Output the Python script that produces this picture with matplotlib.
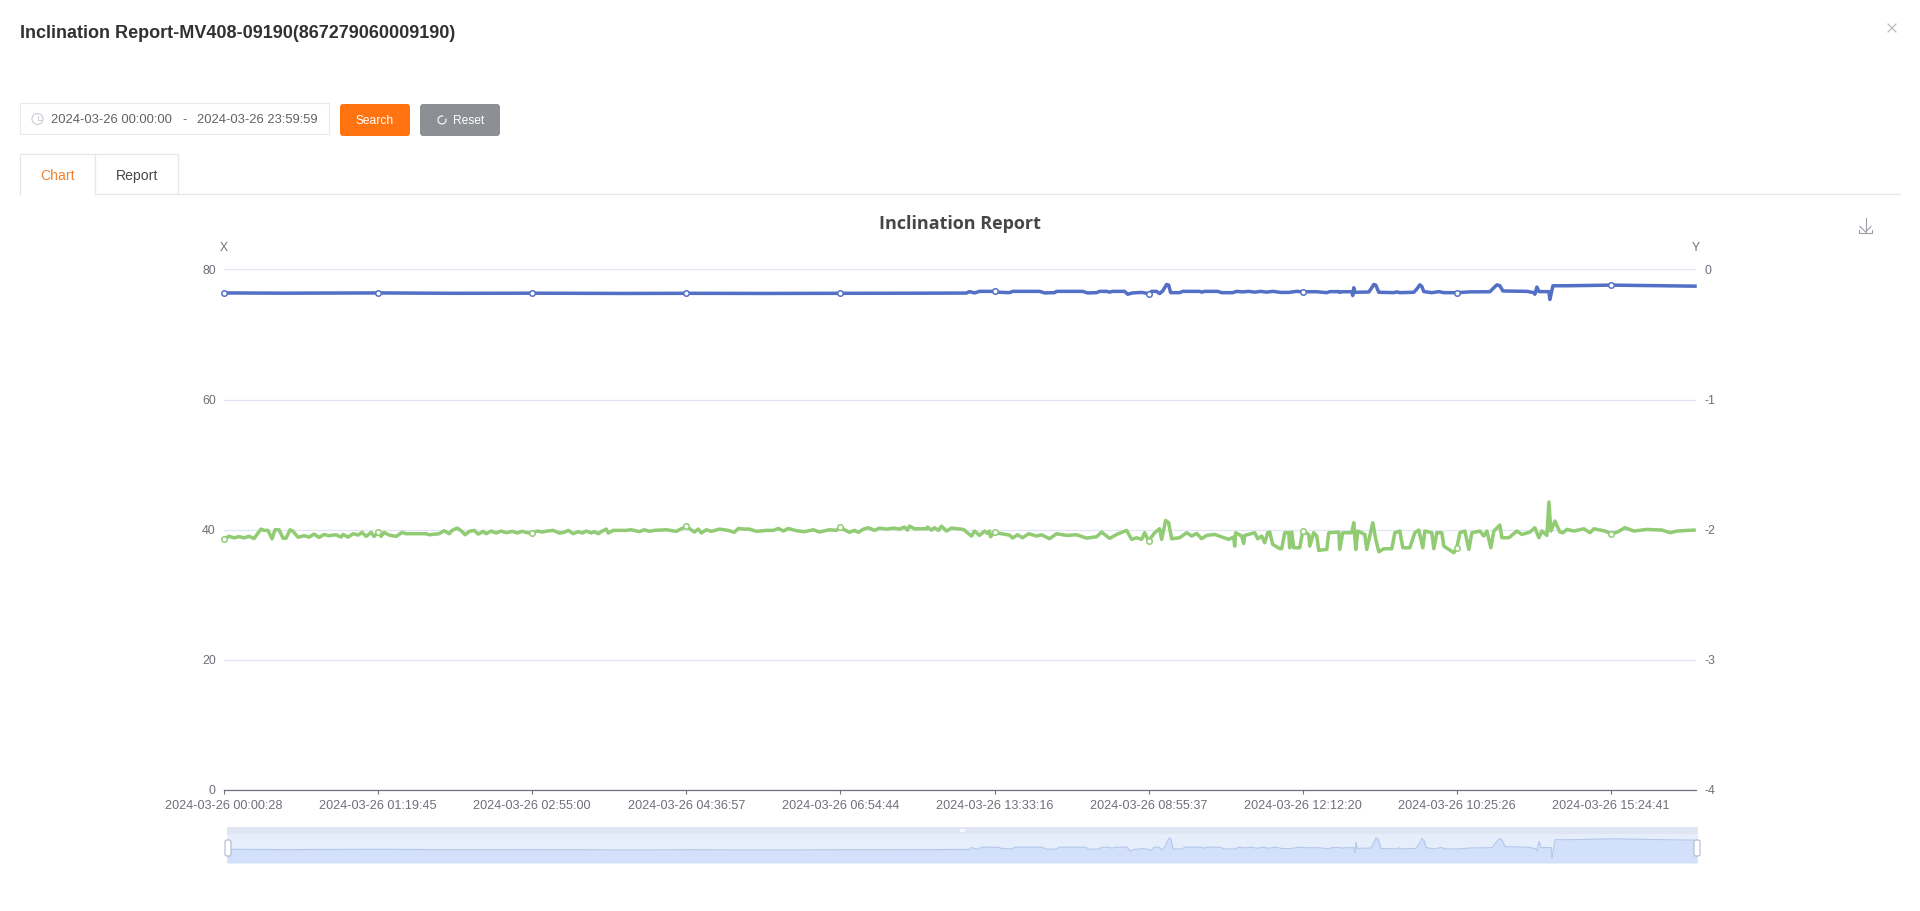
import numpy as np
import matplotlib
matplotlib.use("Agg")
import matplotlib.pyplot as plt
from matplotlib.patches import FancyBboxPatch, Rectangle, Circle, Arc

W, H = 1920, 911
px = 0.72  # px -> pt at dpi 100

page_title = "Inclination Report-MV408-09190(867279060009190)"
chart_title = "Inclination Report"
date_from = "2024-03-26 00:00:00"
date_to = "2024-03-26 23:59:59"
tick_labels = ["2024-03-26 00:00:28", "2024-03-26 01:19:45", "2024-03-26 02:55:00",
               "2024-03-26 04:36:57", "2024-03-26 06:54:44", "2024-03-26 13:33:16",
               "2024-03-26 08:55:37", "2024-03-26 12:12:20", "2024-03-26 10:25:26",
               "2024-03-26 15:24:41"]
tick_index = [0, 154, 308, 462, 616, 770, 924, 1078, 1232, 1386]
left_ticks = [0, 20, 40, 60, 80]
right_ticks = [-4, -3, -2, -1, 0]

blue_index = [0, 60, 154, 230, 308, 400, 462, 540, 616, 700, 742, 745, 750, 755, 770, 775, 785, 788,
              815, 820, 830, 832, 858, 863, 872, 875, 882, 885, 888, 900, 903, 908, 917, 924, 927,
              932, 935, 938, 942, 944, 946, 955, 958, 975, 977, 980, 993, 997, 1008, 1012, 1018,
              1024, 1030, 1036, 1042, 1048, 1056, 1064, 1072, 1078, 1092, 1102, 1105, 1114, 1115,
              1117, 1127, 1128, 1129, 1130, 1144, 1147, 1149, 1151, 1154, 1169, 1172, 1175, 1189,
              1192, 1195, 1197, 1199, 1207, 1214, 1219, 1232, 1245, 1265, 1269, 1272, 1275, 1278,
              1302, 1309, 1310, 1312, 1314, 1324, 1325, 1328, 1342, 1386, 1470]
blue_value = [-0.180, -0.182, -0.180, -0.183, -0.182, -0.184, -0.183, -0.184, -0.183, -0.182, -0.181,
              -0.170, -0.180, -0.168, -0.168, -0.175, -0.178, -0.168, -0.168, -0.180, -0.178, -0.168,
              -0.168, -0.180, -0.178, -0.168, -0.168, -0.174, -0.168, -0.168, -0.190, -0.180, -0.176,
              -0.185, -0.168, -0.168, -0.185, -0.165, -0.115, -0.120, -0.178, -0.178, -0.168, -0.168,
              -0.174, -0.168, -0.168, -0.178, -0.178, -0.168, -0.172, -0.168, -0.174, -0.168, -0.174,
              -0.168, -0.176, -0.176, -0.168, -0.171, -0.171, -0.178, -0.170, -0.170, -0.176, -0.171,
              -0.171, -0.200, -0.140, -0.175, -0.173, -0.140, -0.115, -0.120, -0.175, -0.178, -0.172,
              -0.178, -0.175, -0.150, -0.118, -0.130, -0.170, -0.178, -0.170, -0.178, -0.178, -0.172,
              -0.171, -0.140, -0.118, -0.125, -0.165, -0.168, -0.178, -0.190, -0.135, -0.170, -0.170,
              -0.230, -0.125, -0.125, -0.120, -0.128]

green_index = [0, 5, 10, 15, 20, 25, 30, 37, 40, 44, 48, 51, 55, 59, 62, 66, 69, 74, 80, 85, 90, 95, 100,
               105, 112, 117, 119, 124, 129, 134, 138, 142, 147, 150, 154, 157, 160, 165, 172, 178, 182,
               202, 205, 215, 220, 225, 228, 233, 237, 241, 245, 250, 254, 259, 262, 267, 272, 277, 282,
               288, 293, 298, 303, 308, 313, 318, 323, 329, 335, 340, 344, 349, 354, 358, 362, 367, 370,
               374, 378, 382, 384, 389, 402, 407, 415, 420, 425, 430, 442, 452, 457, 462, 465, 470, 474,
               477, 482, 487, 495, 504, 510, 514, 520, 525, 532, 542, 549, 554, 559, 564, 572, 580, 589,
               595, 605, 612, 616, 620, 625, 630, 634, 639, 644, 650, 655, 662, 669, 675, 680, 683, 685,
               690, 702, 703, 707, 710, 714, 717, 722, 727, 739, 744, 747, 750, 755, 760, 763, 765, 766,
               770, 775, 785, 788, 793, 798, 804, 812, 817, 825, 832, 842, 852, 862, 872, 877, 885, 892,
               902, 907, 912, 917, 920, 924, 930, 935, 937, 941, 944, 947, 955, 962, 967, 972, 977, 982,
               990, 1004, 1009, 1010, 1011, 1017, 1019, 1020, 1030, 1033, 1037, 1040, 1043, 1045, 1048,
               1055, 1057, 1060, 1064, 1065, 1067, 1069, 1075, 1078, 1084, 1085, 1089, 1092, 1094, 1102,
               1104, 1114, 1115, 1118, 1127, 1129, 1131, 1133, 1140, 1142, 1148, 1151, 1154, 1159, 1167,
               1170, 1175, 1178, 1185, 1190, 1194, 1198, 1200, 1207, 1209, 1212, 1217, 1219, 1229, 1232,
               1235, 1240, 1244, 1247, 1255, 1259, 1262, 1266, 1269, 1275, 1277, 1284, 1292, 1297, 1305,
               1310, 1314, 1317, 1322, 1324, 1326, 1330, 1335, 1338, 1342, 1349, 1359, 1365, 1369, 1380,
               1386, 1392, 1400, 1409, 1422, 1437, 1445, 1452, 1469]
green_value = [38.57, 39.0, 38.75, 38.95, 38.75, 39.0, 38.65, 40.1, 39.9, 39.9, 38.6, 40.0, 40.0, 38.7, 38.7,
               40.0, 39.75, 38.85, 39.08, 38.87, 39.33, 38.82, 39.28, 39.08, 39.23, 38.87, 39.28, 38.87,
               39.39, 39.18, 39.59, 38.98, 39.59, 38.98, 39.59, 38.98, 39.59, 39.18, 38.98, 39.59, 39.39,
               39.39, 39.23, 39.39, 39.85, 39.39, 39.9, 40.26, 39.85, 39.23, 39.74, 39.9, 39.33, 39.74,
               39.39, 39.8, 39.5, 39.8, 39.55, 39.75, 39.5, 39.75, 39.55, 39.5, 39.8, 39.65, 39.8, 39.9,
               39.5, 39.6, 39.9, 39.4, 39.7, 39.5, 39.8, 39.5, 39.7, 39.4, 39.8, 40.1, 39.5, 39.9, 39.9,
               40.0, 39.7, 40.0, 39.75, 39.9, 40.0, 39.75, 40.15, 40.5, 40.2, 39.65, 40.1, 39.5, 40.0,
               39.75, 40.1, 39.9, 39.6, 40.2, 40.1, 40.1, 39.75, 39.9, 39.9, 40.2, 39.8, 40.2, 39.85, 39.7,
               40.0, 39.65, 40.0, 39.9, 40.4, 40.0, 39.6, 39.9, 39.6, 40.1, 40.3, 39.9, 40.25, 40.1, 40.25,
               40.1, 40.41, 39.95, 40.56, 40.15, 40.15, 40.41, 39.95, 40.31, 39.9, 40.56, 39.8, 40.26,
               40.05, 39.39, 39.03, 39.8, 39.13, 39.8, 39.44, 39.8, 38.92, 39.64, 39.44, 39.18, 38.72,
               39.23, 38.77, 39.39, 39.03, 39.23, 38.62, 39.39, 39.13, 39.23, 38.72, 38.92, 39.64, 38.67,
               39.28, 39.9, 38.52, 38.77, 38.52, 39.54, 38.3, 39.54, 40.15, 38.52, 41.43, 41.08, 38.62,
               38.77, 39.54, 39.03, 39.44, 38.62, 39.13, 39.28, 38.52, 38.87, 37.49, 39.54, 39.03, 37.9,
               39.13, 39.54, 38.62, 39.03, 38.0, 39.54, 39.64, 37.75, 37.1, 37.1, 39.54, 39.54, 37.23,
               39.64, 37.23, 37.23, 39.8, 39.28, 37.49, 39.54, 39.03, 36.83, 36.98, 39.54, 39.64, 36.98,
               39.54, 39.54, 41.08, 36.98, 39.8, 39.28, 36.98, 41.08, 38.52, 36.62, 37.08, 37.08, 39.54,
               39.8, 37.23, 37.23, 39.54, 39.95, 37.23, 39.8, 39.54, 37.08, 39.54, 39.54, 37.49, 36.47,
               37.23, 39.54, 39.8, 36.98, 39.54, 39.8, 39.03, 39.8, 37.23, 39.8, 40.72, 38.77, 38.77, 39.8,
               39.28, 39.64, 40.31, 38.77, 39.8, 39.13, 44.25, 39.8, 41.33, 39.64, 39.54, 40.05, 39.8,
               40.15, 39.54, 40.15, 39.8, 39.4, 39.6, 40.31, 39.8, 40.05, 39.95, 39.54, 39.8, 39.95]

BLUE, GREEN = "#5470c6", "#91cc75"
GRID, AXIS = "#E0E6F1", "#6E7079"
UI_FONT = ["Liberation Sans", "DejaVu Sans"]
plt.rcParams["font.family"] = UI_FONT

fig = plt.figure(figsize=(W / 100, H / 100), dpi=100, facecolor="white")


def box(l, t, r, b):
    return [l / W, 1 - b / H, (r - l) / W, (b - t) / H]


# page chrome, in pixel coordinates
ui = fig.add_axes([0, 0, 1, 1], zorder=0)
ui.set_xlim(0, W)
ui.set_ylim(H, 0)
ui.axis("off")


def txt(x, y, s, size, color, ha="left", weight="normal", family=None):
    ui.text(x, y, s, fontsize=size * px, color=color, ha=ha, va="center", weight=weight,
            family=family or UI_FONT)


def button(l, t, r, b, color):
    ui.add_patch(FancyBboxPatch((l + 2, t + 2), r - l - 4, b - t - 4, boxstyle="round,pad=2,rounding_size=3",
                                fc=color, ec="none"))


txt(20, 33, page_title, 17.95, "#303133", weight="bold")
ui.plot([1888, 1896], [24, 32], color="#b0b3b8", lw=0.8)
ui.plot([1888, 1896], [32, 24], color="#b0b3b8", lw=0.8)

ui.add_patch(Rectangle((20, 103), 309, 31, fc="white", ec="#e8eaef", lw=0.8))
ui.add_patch(Circle((37.5, 119), 5.5, fc="none", ec="#c8ccd3", lw=0.8))
ui.plot([37.5, 37.5, 40.5], [115.5, 119.5, 119.5], color="#c8ccd3", lw=0.7)
txt(51, 120, date_from, 13, "#606266")
txt(184.5, 120, "-", 13, "#606266", ha="center")
txt(197, 120, date_to, 13, "#606266")
button(340, 104, 410, 136, "#ff7310")
txt(375, 121, "Search", 12, "white", ha="center")
button(420, 104, 500, 136, "#8c8f94")
txt(453, 121, "Reset", 12, "white")
ui.add_patch(Arc((442, 120), 8, 8, theta1=-20, theta2=290, ec="white", lw=0.8))

ui.plot([20, 20, 95, 95], [194, 154, 154, 193.5], color="#e4e7ed", lw=0.9)
ui.plot([95, 178, 178], [154, 154, 193.5], color="#e4e7ed", lw=0.9)
ui.plot([95, 1900], [194, 194], color="#e4e7ed", lw=0.9)
txt(58, 176, "Chart", 14, "#f08030", ha="center")
txt(137.5, 176, "Report", 14, "#484848", ha="center")

txt(960, 224, chart_title, 18, "#464646", ha="center", weight="bold", family=["Open Sans", "DejaVu Sans"])
ui.plot([1865.5, 1865.5], [218, 232], color="#9a9ea6", lw=0.8)
ui.plot([1860, 1865.5, 1871], [226.5, 232, 226.5], color="#9a9ea6", lw=0.8)
ui.plot([1859, 1859, 1872, 1872], [229.5, 232.8, 232.8, 229.5], color="#9a9ea6", lw=0.8)
txt(224, 248, "X", 12, AXIS, ha="center")
txt(1696, 248, "Y", 12, AXIS, ha="center")

# main chart
ax = fig.add_axes(box(224, 269.5, 1696, 790), zorder=2)
ax.patch.set_alpha(0)
ax.set_xlim(0, 1471)
ax.set_ylim(0, 80)
ax.set_yticks(left_ticks)
ax.set_xticks(tick_index)
ax.set_xticklabels(tick_labels)
ax.grid(axis="y", color=GRID, lw=0.9)
ax.set_axisbelow(True)
for side in ("top", "left", "right"):
    ax.spines[side].set_visible(False)
ax.spines["bottom"].set_color(AXIS)
ax.spines["bottom"].set_linewidth(0.9)
ax.tick_params(axis="x", length=4 * px, width=0.8, color=AXIS, labelcolor=AXIS, labelsize=12.6 * px, pad=4)
ax.tick_params(axis="y", length=0, labelcolor=AXIS, labelsize=12.4 * px, pad=6)

axr = ax.twinx()
axr.patch.set_alpha(0)
axr.set_ylim(-4, 0)
axr.set_yticks(right_ticks)
for side in ("top", "left", "right", "bottom"):
    axr.spines[side].set_visible(False)
axr.tick_params(axis="y", length=0, labelcolor=AXIS, labelsize=12.4 * px, pad=6)
axr.set_yticklabels([str(t).replace("\u2212", "-") for t in right_ticks])


def marks(index):
    return list(np.searchsorted(index, tick_index))


ax.plot(green_index, green_value, color=GREEN, lw=3.5 * px, solid_joinstyle="round", clip_on=False,
        marker="o", markevery=marks(green_index), ms=5.5 * px, mfc="white", mec=GREEN, mew=1.5 * px)
axr.plot(blue_index, blue_value, color=BLUE, lw=3.5 * px, solid_joinstyle="round", clip_on=False,
         marker="o", markevery=marks(blue_index), ms=5.5 * px, mfc="white", mec=BLUE, mew=1.5 * px)

# overview slider
mini = fig.add_axes(box(227, 827, 1698, 863), zorder=1)
mini.set_xlim(0, 1471)
mini.set_ylim(-0.2588, -0.052)
mini.axis("off")
mini.axhspan(-0.2588, -0.052, color="#e6eefc", lw=0)
mini.axhspan(-0.0925, -0.052, color="#dfe5f2", lw=0)
mini.fill_between(blue_index, blue_value, -0.2588, color="#d3e0fb", lw=0)
mini.plot(blue_index, blue_value, color="#b4c6ea", lw=0.8)
ui_top = fig.add_axes([0, 0, 1, 1], zorder=3)
ui_top.set_xlim(0, W)
ui_top.set_ylim(H, 0)
ui_top.axis("off")
for cx in (228, 1697):
    ui_top.add_patch(FancyBboxPatch((cx - 2, 841), 4, 14, boxstyle="round,pad=1,rounding_size=2",
                                    fc="white", ec="#acb8d1", lw=0.8))
ui_top.add_patch(Rectangle((960, 829), 5, 2.5, fc="#f4f7fd", ec="none"))

fig.savefig("out.png", dpi=100, facecolor="white")
